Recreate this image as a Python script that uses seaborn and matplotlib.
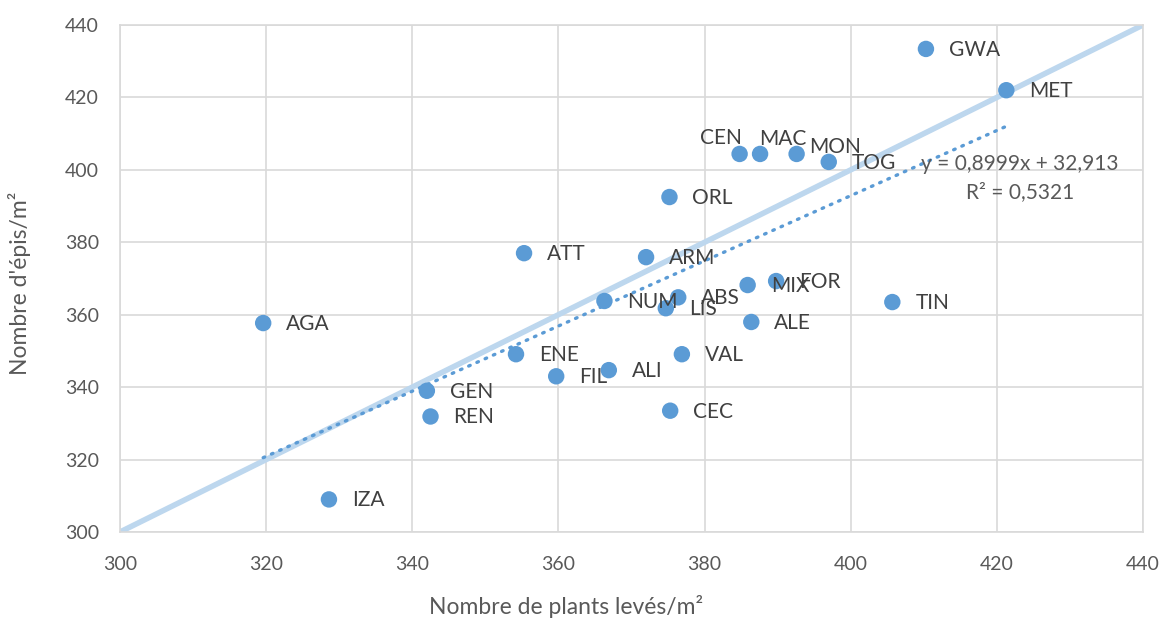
import numpy as np
import pandas as pd
import matplotlib
matplotlib.use("Agg")
import matplotlib.pyplot as plt
import seaborn as sns

# Variety codes with emerged plants/m² (x) and ears/m² (y)
varieties = ["GWA", "MET", "CEN", "MAC", "MON", "TOG", "ORL", "ATT", "ARM", "NUM",
             "LIS", "ABS", "MIX", "FOR", "ALE", "TIN", "AGA", "ENE", "VAL", "FIL",
             "ALI", "CEC", "GEN", "REN", "IZA"]
plants = [410.3, 421.3, 384.8, 387.6, 392.6, 397.0, 375.2, 355.3, 372.0, 366.3,
          374.7, 376.4, 385.9, 389.8, 386.4, 405.7, 319.6, 354.2, 376.9, 359.7,
          366.9, 375.3, 342.0, 342.5, 328.6]
ears = [433.4, 422.0, 404.4, 404.4, 404.4, 402.2, 392.5, 377.0, 375.9, 363.8,
        361.8, 364.8, 368.2, 369.3, 358.0, 363.5, 357.7, 349.1, 349.1, 343.0,
        344.7, 333.5, 339.0, 331.9, 309.0]

# Linear trend reported on the chart
slope = 0.8999
intercept = 32.913
r_squared = 0.5321

axis_ticks = [300, 320, 340, 360, 380, 400, 420, 440]

df = pd.DataFrame({"variety": varieties, "plants": plants, "ears": ears})

sns.set_theme(style="white")
plt.rcParams["font.family"] = ["Lato", "DejaVu Sans"]

fig = plt.figure(figsize=(11.67, 6.21), dpi=100)
ax = fig.add_axes([0.1028, 0.1433, 0.8766, 0.8164])

lo, hi = axis_ticks[0], axis_ticks[-1]
ax.set_xlim(lo, hi)
ax.set_ylim(lo, hi)
ax.set_xticks(axis_ticks)
ax.set_yticks(axis_ticks)
ax.grid(True, color="#D9D9D9", linewidth=1.2)
ax.set_axisbelow(True)
for sp in ax.spines.values():
    sp.set_color("#D9D9D9")
    sp.set_linewidth(1.2)
ax.tick_params(axis="both", length=0, labelsize=14, labelcolor="#595959")
ax.tick_params(axis="x", pad=17)
ax.tick_params(axis="y", pad=15)

# 1:1 reference line
ax.plot([lo, hi], [lo, hi], color="#BDD7EE", linewidth=4, solid_capstyle="butt", zorder=2)

# Linear trend over the observed range
xt = np.linspace(min(plants), max(plants), 50)
ax.plot(xt, slope * xt + intercept, color="#5B9BD5", linewidth=2.4,
        linestyle=(0, (0.5, 2.2)), dash_capstyle="round", zorder=3)

sns.scatterplot(data=df, x="plants", y="ears", ax=ax, color="#5B9BD5",
                s=140, edgecolor="none", zorder=4, legend=False)

# Point labels, placed to the right unless noted
label_offsets = {"CEN": (-40, 16), "MAC": (-1, 15), "MON": (13, 7)}
for name, xv, yv in zip(varieties, plants, ears):
    dx, dy = label_offsets.get(name, (23, -1))
    ax.annotate(name, (xv, yv), xytext=(dx, dy), textcoords="offset pixels",
                ha="left", va="center", fontsize=15, color="#404040", zorder=5)

ax.text(0.88, 0.726, f"y = {slope:.4f}x + {intercept:.3f}".replace(".", ","),
        transform=ax.transAxes, ha="center", va="center", fontsize=15, color="#595959")
ax.text(0.88, 0.670, f"R² = {r_squared:.4f}".replace(".", ","),
        transform=ax.transAxes, ha="center", va="center", fontsize=15, color="#595959")

ax.set_xlabel("Nombre de plants levés/m²", fontsize=16.5, color="#595959")
ax.set_ylabel("Nombre d'épis/m²", fontsize=16.5, color="#595959")
ax.xaxis.set_label_coords(0.436, -0.125)
ax.yaxis.set_label_coords(-0.087, 0.49)

fig.savefig("out.png", dpi=100)
